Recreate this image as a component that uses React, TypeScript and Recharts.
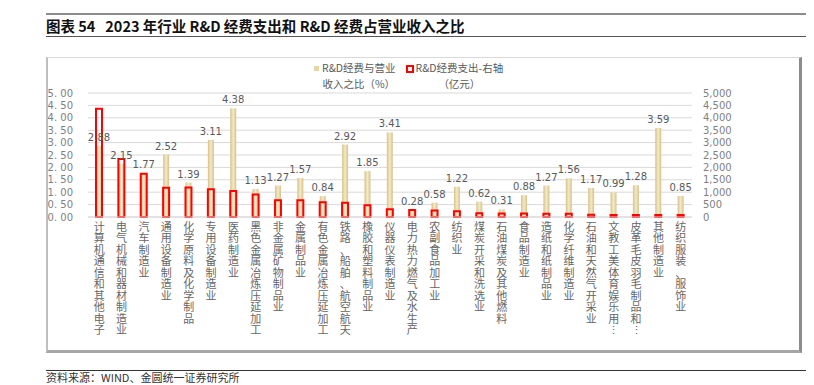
import React from 'react';
import { BarChart, Bar, XAxis, YAxis, CartesianGrid, LabelList } from 'recharts';

const CATEGORIES = [
    '计算机通信和其他电子', '电气机械和器材制造业', '汽车制造业', '通用设备制造业', '化学原料及化学制品',
    '专用设备制造业', '医药制造业', '黑色金属冶炼压延加工', '非金属矿物制品业', '金属制品业',
    '有色金属冶炼压延加工', '铁路、船舶、航空航天', '橡胶和塑料制品业', '仪器仪表制造业', '电力热力燃气及水生产',
    '农副食品加工业', '纺织业', '煤炭开采和洗选业', '石油煤炭及其他燃料', '食品制造业',
    '造纸和纸制品业', '化学纤维制造业', '石油和天然气开采业', '文教工美体育娱乐用…', '皮革毛皮羽毛制品和…',
    '其他制造业', '纺织服装、服饰业',
];

// R&D经费与营业收入之比（%）
const RATIO = [
    2.88, 2.15, 1.77, 2.52, 1.39, 3.11, 4.38, 1.13, 1.27, 1.57,
    0.84, 2.92, 1.85, 3.41, 0.28, 0.58, 1.22, 0.62, 0.31, 0.88,
    1.27, 1.56, 1.17, 0.99, 1.28, 3.59, 0.85,
];

// R&D经费支出（亿元），右轴
const SPEND = [
    4360, 2340, 1740, 1180, 1190, 1120, 1050, 910, 680, 680,
    590, 570, 470, 310, 280, 260, 230, 150, 140, 140,
    130, 130, 90, 80, 80, 80, 80,
];

const LEFT_TICKS = [0, 0.5, 1, 1.5, 2, 2.5, 3, 3.5, 4, 4.5, 5];
const RIGHT_TICKS = [0, 500, 1000, 1500, 2000, 2500, 3000, 3500, 4000, 4500, 5000];

const data = CATEGORIES.map((name, i) => ({ name, ratio: RATIO[i], spend: SPEND[i] }));

const CJK = '"Noto Sans CJK SC", "Noto Sans", sans-serif';
const NUM = '"DejaVu Sans", sans-serif';

// category names are written top to bottom, one character per line
const VerticalTick = (props: any) => {
    const { x, y, payload } = props;
    const chars = Array.from(String(payload.value).replace('…', '⋮'));
    return (
        <g>
            {chars.map((c, i) => (
                <text key={i} x={x} y={y + 1 + i * 11.45} textAnchor="middle" dominantBaseline="central"
                    fontSize={11} fill="#666" fontFamily={CJK}>
                    {c}
                </text>
            ))}
        </g>
    );
};

const LegendBox = () => (
    <div style={{
        position: 'absolute', left: 314, top: 60, display: 'flex', gap: 10,
        fontFamily: CJK, fontSize: 10.5, color: '#595959', lineHeight: '15.5px',
    }}>
        <div style={{ display: 'flex', alignItems: 'flex-start' }}>
            <span style={{ width: 5, height: 5, background: '#E6D6A4', marginTop: 6, marginRight: 3 }} />
            <div style={{ textAlign: 'center' }}>
                <div>R&amp;D经费与营业</div>
                <div>收入之比（%）</div>
            </div>
        </div>
        <div style={{ display: 'flex', alignItems: 'flex-start' }}>
            <span style={{ width: 4, height: 4, border: '2px solid #FF0000', background: '#fff', marginTop: 5, marginRight: 2 }} />
            <div style={{ textAlign: 'center' }}>
                <div>R&amp;D经费支出-右轴</div>
                <div>（亿元）</div>
            </div>
        </div>
    </div>
);

export default function App() {
    return (
        <div style={{ position: 'absolute', left: 0, top: 0, width: 814, height: 385, background: '#fff', overflow: 'hidden' }}>
            <div style={{ position: 'absolute', left: 46, top: 13, width: 760, height: 2, background: '#8c8c8c' }} />
            <div style={{
                position: 'absolute', left: 46, top: 17, fontFamily: CJK, fontWeight: 700, fontSize: 14.5,
                lineHeight: '18px', color: '#111', whiteSpace: 'nowrap',
            }}>
                图表 54&nbsp;&nbsp;&nbsp;2023 年行业 R&amp;D 经费支出和 R&amp;D 经费占营业收入之比
            </div>
            <div style={{ position: 'absolute', left: 46, top: 36, width: 760, height: 1, background: '#555' }} />

            <div style={{
                position: 'absolute', left: 46, top: 57, width: 751, height: 292,
                borderTop: '1px solid #d9d9d9', borderLeft: '2px solid #bfbfbf',
                borderRight: '3px solid #8c8c8c', borderBottom: '3px solid #a6a6a6',
            }} />

            <div style={{ position: 'absolute', left: 0, top: 0 }}>
                <BarChart width={814} height={385} data={data} margin={{ top: 93, right: 62, bottom: 43, left: 48 }}>
                    <defs>
                        <linearGradient id="tanFill" x1="0" y1="0" x2="1" y2="0">
                            <stop offset="0%" stopColor="#D6C187" />
                            <stop offset="50%" stopColor="#F4EACA" />
                            <stop offset="100%" stopColor="#D6C187" />
                        </linearGradient>
                    </defs>
                    <CartesianGrid xAxisId="a" yAxisId="left" vertical={false} stroke="#d9d9d9" />
                    <XAxis xAxisId="a" dataKey="name" interval={0} height={125} axisLine={{ stroke: '#d9d9d9' }}
                        tickLine={false} tick={<VerticalTick />} />
                    <XAxis xAxisId="b" dataKey="name" hide />
                    <YAxis yAxisId="left" orientation="left" width={40} domain={[0, 5]} ticks={LEFT_TICKS}
                        axisLine={false} tickLine={false} tickSize={0} tickMargin={15} interval={0}
                        tickFormatter={(v: number) => v.toFixed(2).replace('.', '. ')}
                        tick={{ fontSize: 10, fill: '#7f7f7f', fontFamily: NUM }} />
                    <YAxis yAxisId="right" orientation="right" width={60} domain={[0, 5000]} ticks={RIGHT_TICKS}
                        axisLine={false} tickLine={false} tickSize={0} tickMargin={11} interval={0}
                        tickFormatter={(v: number) => v.toLocaleString('en-US')}
                        tick={{ fontSize: 10, fill: '#7f7f7f', fontFamily: NUM, textAnchor: 'start' }} />
                    <Bar xAxisId="a" yAxisId="left" dataKey="ratio" barSize={6} fill="url(#tanFill)" isAnimationActive={false}>
                        <LabelList dataKey="ratio" position="top" offset={5}
                            formatter={(v: any) => Number(v).toFixed(2)}
                            style={{ fontSize: 10, fill: '#595959', fontFamily: NUM }} />
                    </Bar>
                    <Bar xAxisId="b" yAxisId="right" dataKey="spend" barSize={6} fill="none" stroke="#FF0000"
                        strokeWidth={2} isAnimationActive={false} />
                </BarChart>
            </div>

            <LegendBox />

            <div style={{ position: 'absolute', left: 46, top: 370, width: 760, height: 1, background: '#333' }} />
            <div style={{
                position: 'absolute', left: 46, top: 371, fontFamily: CJK, fontSize: 11, lineHeight: '12px',
                color: '#333', whiteSpace: 'nowrap',
            }}>
                资料来源：WIND、金圆统一证券研究所
            </div>
        </div>
    );
}
